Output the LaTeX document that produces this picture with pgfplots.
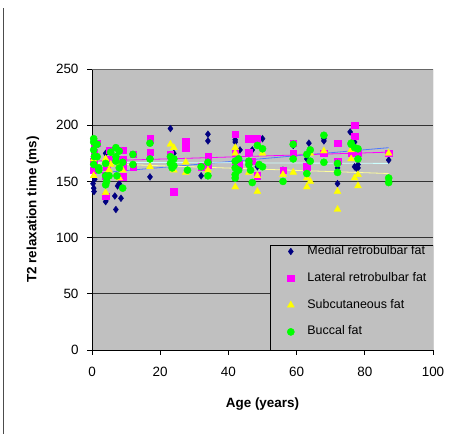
\documentclass[border=0pt]{standalone}
\usepackage{fontspec}
\setmainfont{Liberation Sans}
\usepackage{pgfplots}
\pgfplotsset{compat=1.18}
\definecolor{plotbg}{HTML}{C0C0C0}
\definecolor{cMed}{HTML}{000080}
\definecolor{cLat}{HTML}{FF00FF}
\definecolor{cSub}{HTML}{FFFF00}
\definecolor{cBuc}{HTML}{00FF00}
\definecolor{tMed}{HTML}{4D79FF}
\definecolor{tSub}{HTML}{FFFF99}
\definecolor{tBuc}{HTML}{CCFFFF}

\begin{document}
\begin{tikzpicture}[x=1bp,y=1bp]
\path (0,0) rectangle (456,437);
\draw[gray!60!black, line width=0.8bp] (3.3,3) -- (3.3,429);
\begin{axis}[
  at={(92bp,87bp)}, anchor=south west,
  scale only axis, width=341bp, height=281bp,
  xmin=0, xmax=100, ymin=0, ymax=250,
  xtick={0,20,...,100}, ytick={0,50,...,250},
  axis x line*=bottom, axis y line*=left,
  axis line style={black, line width=0.8bp, -},
  tick align=outside, major tick length=5bp,
  tick style={black, line width=0.8bp},
  axis background/.style={fill=plotbg},
  ymajorgrids, major grid style={black!80, line width=0.8bp},
  /pgf/number format/assume math mode=true,
  tick label style={font=\fontsize{13.5}{16}\selectfont},
  xticklabel style={yshift=-9bp},
  yticklabel style={xshift=-5bp},
  xlabel={Age (years)}, ylabel={T2 relaxation time (ms)},
  label style={font=\bfseries\fontsize{13.5}{16}\selectfont},
  xlabel style={at={(axis description cs:0.5,-0.192)}, anchor=center},
  ylabel style={at={(axis description cs:-0.173,0.5)}, anchor=center},
  legend style={at={(rel axis cs:0.522,0.374)}, anchor=north west, yshift=7bp,
    fill=none, draw=none,
    font=\fontsize{12.5}{14}\selectfont,
    inner xsep=17bp, inner ysep=0bp,
    nodes={text height=9bp, text depth=3bp, inner ysep=7.4bp, inner xsep=3bp},
    /tikz/every odd column/.append style={column sep=10bp}},
  legend cell align=left,
  legend image code/.code={\draw[mark repeat=2,mark phase=2,#1] plot coordinates {(0bp,0bp)(9bp,0bp)(18bp,0bp)};},
]
\addplot[only marks, mark=diamond*, mark size=3.4bp, color=cMed] coordinates {
(0.3,148)(0.5,144)(0.6,141)(0.8,152)(4,132)(4.2,134)(4,175)(5,165)(7,125)(6.7,137)
(7.5,146)(8,148)(8.5,135)(17,154)(17,170)(23,197)(24,175)(32,155)(34,192)(34,186)
(42,185)(42,187)(43.4,178)(47,178)(48.5,163)(50,188)(56,160)(59,182)(63,170)(63.6,184)
(68,186)(68,188)(72,148)(72,162)(75.7,194)(76,175)(77,163)(77,185)(77.5,162)(78,162)
(78,165)(87,169)};
\addlegendentry{Medial retrobulbar fat}
\addplot[only marks, mark=square*, mark size=3.2bp, color=cLat] coordinates {
(0.3,160)(0.5,168)(0.6,176)(0.8,183)(1.5,184)(4,137)(4,155)(4.3,163)(5,178)(5.5,170)
(8,178)(9,154)(9,163)(9,170)(9,178)(12,174)(12,163)(17,188)(17,176)(23,174)
(24,141)(27.5,186)(27.5,180)(32,163)(34,172)(34,165)(42,192)(42,175)(42,165)(43,165)
(46,188)(46,176)(47,188)(47,168)(48.5,188)(48.5,155)(56,160)(59,184)(59,175)(63,163)
(68,175)(72,184)(72,168)(76,175)(77,200)(77,190)(78,175)(87,175)};
\addlegendentry{Lateral retrobulbar fat}
\addplot[only marks, mark=triangle*, mark size=4bp, color=cSub] coordinates {
(0.5,155)(0.5,170)(0.8,165)(1,172)(4,140)(4,170)(5,160)(5.5,165)(8,153)(8,165)
(9,160)(17,163)(23,183)(24,180)(24,160)(27.5,167)(27.5,158)(34,160)(42,145)(42,180)
(42,175)(46,158)(48.5,141)(48.5,155)(50,175)(56,156)(59,158)(63,145)(63,153)(64,150)
(64,175)(68,177)(72,125)(72,141)(76,170)(76,178)(77,153)(78,156)(78,146)(87,175)};
\addlegendentry{Subcutaneous fat}
\addplot[only marks, mark=*, mark size=3.6bp, color=cBuc] coordinates {
(0.5,188)(0.5,185)(0.5,178)(0.7,172)(0.5,165)(1.5,183)(1.5,172)(2,162)(2,160)(4,166)
(4,155)(4,147)(4.3,150)(5,155)(5.5,176)(7,180)(7,172)(7,168)(7.3,155)(8,177)
(8,162)(9,144)(9,167)(12,174)(12,165)(17,184)(17,170)(23,172)(23,166)(23.5,162)
(24,170)(24,164)(28,160)(32,163)(34,167)(34,155)(42,168)(42,162)(42,156)(42,153)
(43,160)(43,170)(46,168)(46,165)(46.5,160)(47,149)(48.5,182)(49,165)(50,179)(50,163)
(56,150)(59,183)(59,170)(63,174)(63,157)(64,178)(64,168)(68,191)(68,167)(72,166)
(72,158)(76,184)(76,183)(77,180)(78,179)(78,170)(87,153)(87,149)};
\addlegendentry{Buccal fat}
\addplot[forget plot, tMed, line width=0.8bp] coordinates {(0,157)(87,180)};
\addplot[forget plot, cLat, line width=0.8bp] coordinates {(0,168)(87,176)};
\addplot[forget plot, tSub, line width=0.8bp] coordinates {(0,166)(87,157)};
\addplot[forget plot, tBuc, line width=0.8bp] coordinates {(0,167)(87,166)};
\draw[gray!80!black, line width=0.8bp] (rel axis cs:0,1) -- (rel axis cs:1,1) -- (rel axis cs:1,0);
\fill[plotbg] (rel axis cs:0.522,0) rectangle (rel axis cs:1,0.374);
\draw[black, line width=0.8bp] (rel axis cs:0.522,0) -- (rel axis cs:0.522,0.374) -- (rel axis cs:1,0.374) -- (rel axis cs:1,0);
\end{axis}
\end{tikzpicture}
\end{document}
